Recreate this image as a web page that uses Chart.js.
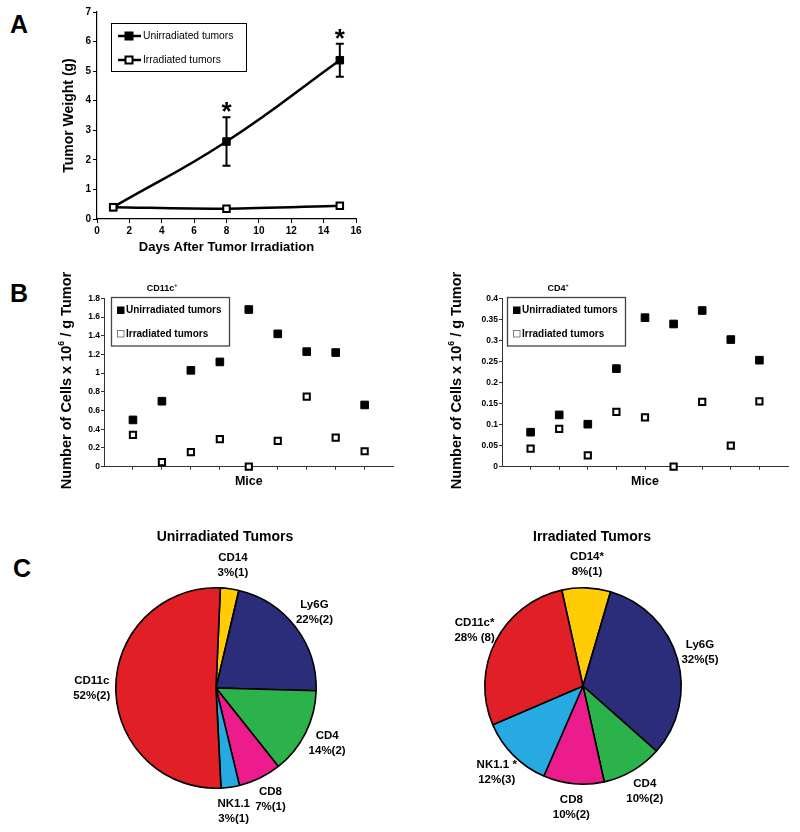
<!DOCTYPE html>
<html>
<head>
<meta charset="utf-8">
<script src="https://cdn.jsdelivr.net/npm/chart.js@4.4.1/dist/chart.umd.min.js"></script>
<style>
  body { margin: 0; background: #fff; width: 800px; height: 832px; position: relative; overflow: hidden; font-family: "Liberation Sans", Arial, sans-serif; }
  canvas { position: absolute; }
  .tag { position: absolute; font-weight: bold; font-size: 25px; line-height: 25px; color: #000; }
</style>
</head>
<body>
<div class="tag" style="left:10px;top:12px">A</div>
<div class="tag" style="left:10px;top:281px">B</div>
<div class="tag" style="left:13px;top:556px">C</div>

<canvas id="chartA" style="left:0;top:0" width="380" height="262"></canvas>
<canvas id="chartCD11c" style="left:0;top:270px" width="400" height="230"></canvas>
<canvas id="chartCD4" style="left:400px;top:270px" width="400" height="230"></canvas>
<canvas id="pieUnirr" style="left:0;top:520px" width="400" height="312"></canvas>
<canvas id="pieIrr" style="left:400px;top:520px" width="400" height="312"></canvas>

<script>
// ---- panel A: tumour weight over time
const days = [1, 8, 15];
const unirrWeight = [0.4, 2.62, 5.37];
const unirrErr = [0, 0.82, 0.56];
const irrWeight = [0.4, 0.35, 0.45];
const starDays = [8, 15];
const dayTicks = [0, 2, 4, 6, 8, 10, 12, 14, 16];
const weightTicks = [0, 1, 2, 3, 4, 5, 6, 7];

// ---- panel B: cells per gram, one point per mouse
const mice = [1, 2, 3, 4, 5, 6, 7, 8, 9];
const cd11cUnirr = [0.5, 0.7, 1.03, 1.12, 1.68, 1.42, 1.23, 1.22, 0.66];
const cd11cIrr = [0.34, 0.05, 0.155, 0.295, 0.0, 0.275, 0.75, 0.31, 0.165];
const cd4Unirr = [0.082, 0.123, 0.101, 0.233, 0.354, 0.339, 0.371, 0.302, 0.253];
const cd4Irr = [0.043, 0.09, 0.027, 0.13, 0.117, 0.0, 0.154, 0.05, 0.155];
const cd11cTicks = [0, 0.2, 0.4, 0.6, 0.8, 1, 1.2, 1.4, 1.6, 1.8];
const cd4Ticks = [0, 0.05, 0.1, 0.15, 0.2, 0.25, 0.3, 0.35, 0.4];

// ---- panel C: cell type shares
const unirrNames = ['CD14', 'Ly6G', 'CD4', 'CD8', 'NK1.1', 'CD11c'];
const unirrShare = [3, 22, 14, 7, 3, 52];
const unirrPct = ['3%(1)', '22%(2)', '14%(2)', '7%(1)', '3%(1)', '52%(2)'];
const irrNames = ['CD14*', 'Ly6G', 'CD4', 'CD8', 'NK1.1 *', 'CD11c*'];
const irrShare = [8, 32, 10, 10, 12, 28];
const irrPct = ['8%(1)', '32%(5)', '10%(2)', '10%(2)', '12%(3)', '28% (8)'];
const pieColors = ['#FFCC05', '#2B2D7A', '#2CB24A', '#EC1C8C', '#27AAE1', '#E11F26'];

const FONT = '"Liberation Sans", Arial, sans-serif';
Chart.defaults.font.family = FONT;
Chart.defaults.color = '#000';
Chart.defaults.animation = false;

function pts(xs, ys) { return xs.map((x, i) => ({ x: x, y: ys[i] })); }
function fixSize(size) {
  return s => { if (s.isHorizontal()) s.height = size; else s.width = size; };
}
function useTicks(arr) {
  return s => { s.ticks = arr.map(v => ({ value: v })); };
}
function trimNum(v) { return String(Math.round(v * 1000) / 1000); }

// text with one superscript piece, optionally rotated
function richText(ctx, parts, x, y, size, rotate) {
  ctx.save();
  ctx.translate(x, y);
  if (rotate) ctx.rotate(-Math.PI / 2);
  ctx.textBaseline = 'middle';
  ctx.textAlign = 'left';
  ctx.fillStyle = '#000';
  let w = 0;
  parts.forEach(p => {
    ctx.font = 'bold ' + (p.sup ? size * 0.6 : size) + 'px ' + FONT;
    p.w = ctx.measureText(p.t).width;
    w += p.w;
  });
  let cx = -w / 2;
  parts.forEach(p => {
    ctx.font = 'bold ' + (p.sup ? size * 0.6 : size) + 'px ' + FONT;
    ctx.fillText(p.t, cx, p.sup ? -size * 0.38 : 0);
    cx += p.w;
  });
  ctx.restore();
}

// ---------------- Panel A ----------------
const panelA = {
  id: 'panelA',
  beforeDatasetsDraw(chart) {
    const { ctx, scales: { x, y } } = chart;
    ctx.save();
    ctx.strokeStyle = '#000';
    ctx.lineWidth = 2;
    days.forEach((d, i) => {
      if (!unirrErr[i]) return;
      const px = x.getPixelForValue(d);
      const top = y.getPixelForValue(unirrWeight[i] + unirrErr[i]);
      const bot = y.getPixelForValue(unirrWeight[i] - unirrErr[i]);
      ctx.beginPath();
      ctx.moveTo(px, top); ctx.lineTo(px, bot);
      ctx.moveTo(px - 4, top); ctx.lineTo(px + 4, top);
      ctx.moveTo(px - 4, bot); ctx.lineTo(px + 4, bot);
      ctx.stroke();
    });
    ctx.restore();
  },
  afterDraw(chart) {
    const { ctx, scales: { x, y } } = chart;
    ctx.save();
    // significance stars
    ctx.fillStyle = '#000';
    ctx.font = 'bold 26px ' + FONT;
    ctx.textAlign = 'center';
    ctx.textBaseline = 'alphabetic';
    starDays.forEach(d => {
      const i = days.indexOf(d);
      const top = y.getPixelForValue(unirrWeight[i] + unirrErr[i]);
      ctx.fillText('*', x.getPixelForValue(d), top + 3);
    });
    // legend
    ctx.strokeStyle = '#000';
    ctx.lineWidth = 1;
    ctx.strokeRect(111.5, 23.5, 135, 48);
    ctx.font = '10.3px ' + FONT;
    ctx.textAlign = 'left';
    ctx.textBaseline = 'middle';
    [['Unirradiated tumors', '#000', 36], ['Irradiated tumors', '#fff', 60]].forEach(([label, fill, ly]) => {
      ctx.lineWidth = 2.5;
      ctx.beginPath(); ctx.moveTo(118, ly); ctx.lineTo(141, ly); ctx.stroke();
      ctx.fillStyle = fill;
      ctx.lineWidth = 2;
      ctx.fillRect(125.5, ly - 3.5, 7, 7);
      ctx.strokeRect(125.5, ly - 3.5, 7, 7);
      ctx.fillStyle = '#000';
      ctx.fillText(label, 143, ly + 0.5);
    });
    ctx.restore();
  }
};

new Chart(document.getElementById('chartA'), {
  type: 'scatter',
  data: {
    datasets: [
      {
        label: 'Irradiated tumors',
        data: pts(days, irrWeight),
        showLine: true, tension: 0.3, clip: false, order: 0,
        borderColor: '#000', borderWidth: 2.5,
        pointStyle: 'rect', pointRadius: 4.6, pointBorderWidth: 2,
        pointBackgroundColor: '#fff', pointBorderColor: '#000'
      },
      {
        label: 'Unirradiated tumors',
        data: pts(days, unirrWeight),
        showLine: true, tension: 0.45, clip: false, order: 1,
        borderColor: '#000', borderWidth: 2.5,
        pointStyle: 'rect', pointRadius: 5.3, pointBorderWidth: 1,
        pointBackgroundColor: '#000', pointBorderColor: '#000'
      }
    ]
  },
  options: {
    responsive: false,
    layout: { padding: { left: 59, top: 12, right: 24, bottom: 0 } },
    plugins: { legend: { display: false }, tooltip: { enabled: false } },
    scales: {
      x: {
        type: 'linear', min: 0, max: 16,
        afterFit: fixSize(43), afterBuildTicks: useTicks(dayTicks),
        border: { color: '#000', width: 1.2 },
        grid: { drawOnChartArea: false, drawTicks: true, tickLength: 4, color: '#000' },
        ticks: { font: { size: 10, weight: 'bold' }, padding: 2, maxRotation: 0 },
        title: { display: true, text: 'Days After Tumor Irradiation', font: { size: 13, weight: 'bold' }, padding: { top: 0, bottom: 7 } }
      },
      y: {
        type: 'linear', min: 0, max: 7,
        afterFit: fixSize(38), afterBuildTicks: useTicks(weightTicks),
        border: { color: '#000', width: 1.2 },
        grid: { drawOnChartArea: false, drawTicks: true, tickLength: 4, color: '#000' },
        ticks: { font: { size: 10, weight: 'bold' }, padding: 2 },
        title: { display: true, text: 'Tumor Weight (g)', font: { size: 14, weight: 'bold' }, padding: { top: 2, bottom: 0 } }
      }
    }
  },
  plugins: [panelA]
});

// ---------------- Panel B ----------------
function cellPanel(id, unirr, irr, tickArr, maxY, marker, yAxisW, padRight, titleX, boxX) {
  const deco = {
    id: 'deco' + id,
    afterDraw(chart) {
      const ctx = chart.ctx;
      const a = chart.chartArea;
      richText(ctx, [{ t: 'Number of Cells x 10' }, { t: '6', sup: true }, { t: ' / g Tumor' }],
        titleX, (a.top + a.bottom) / 2 - 2, 14.5, true);
      richText(ctx, [{ t: marker }, { t: '+', sup: true }], boxX + 51, 18.5, 9, false);
      ctx.save();
      ctx.strokeStyle = '#444';
      ctx.lineWidth = 1.3;
      ctx.strokeRect(boxX + 0.5, 27.5, 118, 48.5);
      ctx.font = 'bold 10px ' + FONT;
      ctx.textBaseline = 'middle';
      ctx.textAlign = 'left';
      ctx.fillStyle = '#000';
      ctx.fillRect(boxX + 6, 36.5, 7.5, 7.5);
      ctx.fillText('Unirradiated tumors', boxX + 15, 40.5);
      ctx.strokeStyle = '#666';
      ctx.lineWidth = 0.8;
      ctx.strokeRect(boxX + 6.5, 60.5, 6.5, 6.5);
      ctx.fillText('Irradiated tumors', boxX + 15, 64);
      ctx.restore();
    }
  };
  new Chart(document.getElementById(id), {
    type: 'scatter',
    data: {
      datasets: [
        {
          label: 'Unirradiated tumors', data: pts(mice, unirr), clip: false,
          pointStyle: 'rect', pointRadius: 5.4, pointBorderWidth: 1,
          pointBackgroundColor: '#000', pointBorderColor: '#000'
        },
        {
          label: 'Irradiated tumors', data: pts(mice, irr), clip: false,
          pointStyle: 'rect', pointRadius: 4.4, pointBorderWidth: 2,
          pointBackgroundColor: '#fff', pointBorderColor: '#000'
        }
      ]
    },
    options: {
      responsive: false,
      layout: { padding: { left: 0, top: 28.3, right: padRight, bottom: 0 } },
      plugins: { legend: { display: false }, tooltip: { enabled: false } },
      scales: {
        x: {
          type: 'linear', min: 0, max: 10,
          afterFit: fixSize(33.3), afterBuildTicks: useTicks(mice),
          border: { color: '#333', width: 1 },
          grid: { drawOnChartArea: false, drawTicks: true, tickLength: 3, color: '#333' },
          ticks: { callback: () => '' },
          title: { display: true, text: 'Mice', font: { size: 12.5, weight: 'bold' }, padding: { top: 0, bottom: 10.5 } }
        },
        y: {
          type: 'linear', min: 0, max: maxY,
          afterFit: fixSize(yAxisW), afterBuildTicks: useTicks(tickArr),
          border: { color: '#333', width: 1 },
          grid: { drawOnChartArea: false, drawTicks: true, tickLength: 3, color: '#333' },
          ticks: { font: { size: 8.5, weight: 'bold' }, padding: 1, callback: v => trimNum(v) }
        }
      }
    },
    plugins: [deco]
  });
}

cellPanel('chartCD11c', cd11cUnirr, cd11cIrr, cd11cTicks, 1.8, 'CD11c', 104, 3, 67, 111);
cellPanel('chartCD4', cd4Unirr, cd4Irr, cd4Ticks, 0.4, 'CD4', 102, 12, 57, 107);

// ---------------- Panel C ----------------
function piePanel(id, names, share, pct, rotation, pad, title, titleX) {
  const labels = {
    id: 'labels' + id,
    afterDraw(chart) {
      const ctx = chart.ctx;
      ctx.save();
      ctx.fillStyle = '#000';
      ctx.textAlign = 'center';
      ctx.textBaseline = 'middle';
      ctx.font = 'bold 14px ' + FONT;
      ctx.fillText(title, titleX, 17.5);
      ctx.font = 'bold 11.5px ' + FONT;
      chart.getDatasetMeta(0).data.forEach((arc, i) => {
        const mid = (arc.startAngle + arc.endAngle) / 2;
        const d = arc.outerRadius * 1.24;
        const lx = arc.x + Math.cos(mid) * d;
        const ly = arc.y + Math.sin(mid) * d;
        ctx.fillText(names[i], lx, ly - 7.5);
        ctx.fillText(pct[i], lx, ly + 7.5);
      });
      ctx.restore();
    }
  };
  new Chart(document.getElementById(id), {
    type: 'pie',
    data: {
      labels: names,
      datasets: [{
        data: share,
        backgroundColor: pieColors,
        borderColor: '#000',
        borderWidth: 1.6
      }]
    },
    options: {
      responsive: false,
      rotation: rotation,
      layout: { padding: pad },
      plugins: { legend: { display: false }, tooltip: { enabled: false } }
    },
    plugins: [labels]
  });
}

piePanel('pieUnirr', unirrNames, unirrShare, unirrPct, 2.5,
  { left: 115, right: 83, top: 67, bottom: 43 }, 'Unirradiated Tumors', 225);
piePanel('pieIrr', irrNames, irrShare, irrPct, -12.5,
  { left: 84, right: 118, top: 67, bottom: 47 }, 'Irradiated Tumors', 192);
</script>
</body>
</html>
